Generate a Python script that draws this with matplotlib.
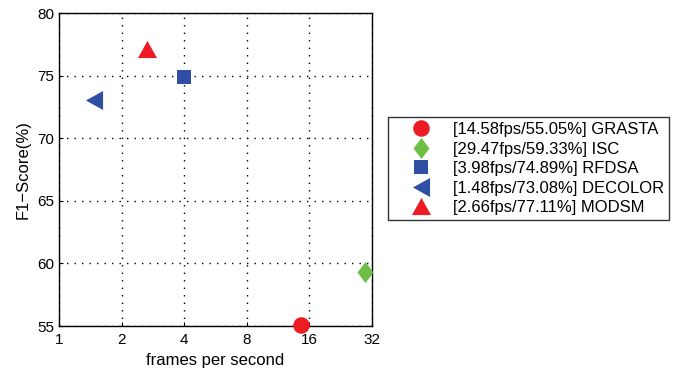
import matplotlib
matplotlib.use("Agg")
import matplotlib.pyplot as plt
from matplotlib.path import Path

plt.rcParams['font.family'] = ['Liberation Sans', 'DejaVu Sans']

methods = ["GRASTA", "ISC", "RFDSA", "DECOLOR", "MODSM"]
fps = [14.58, 29.47, 3.98, 1.48, 2.66]
f1 = [55.05, 59.33, 74.89, 73.08, 77.11]
xticks = [1, 2, 4, 8, 16, 32]
yticks = [55, 60, 65, 70, 75, 80]

# marker shapes (MATLAB-like proportions)
diamond = Path([(0, 1), (0.76, 0), (0, -1), (-0.76, 0), (0, 1)], closed=True)
tri_up = Path([(-1, -0.9), (1, -0.9), (0, 0.9), (-1, -0.9)], closed=True)
tri_left = Path([(0.9, 1), (0.9, -1), (-0.9, 0), (0.9, 1)], closed=True)
markers = ["o", diamond, "s", tri_left, tri_up]
colors = ["#ED1C24", "#6CBE45", "#2E4FA3", "#2E4FA3", "#ED1C24"]
sizes = [11.9, 15.1, 10.0, 13.7, 13.7]

fig = plt.figure(figsize=(6.75, 3.69), dpi=100)
ax = fig.add_axes([59/675, 1-326/369, 313/675, 313/369])

for m, x, y, mk, c, s in zip(methods, fps, f1, markers, colors, sizes):
    ax.plot([x], [y], linestyle='none', marker=mk, color=c, markersize=s,
            markeredgewidth=0, label=f"[{x:.2f}fps/{y:.2f}%] {m}", clip_on=False, zorder=5)

ax.set_xscale('log', base=2)
ax.set_xlim(1, 32)
ax.set_ylim(55, 80)
ax.set_xticks(xticks)
ax.set_xticklabels([str(t) for t in xticks])
ax.set_yticks(yticks)
ax.minorticks_off()
ax.grid(True, linestyle=(0, (1.0, 4.4)), color='black', linewidth=1.0)
ax.tick_params(direction='in', length=3, labelsize=11, width=0.8)
ax.tick_params(axis='x', pad=5)
for sp in ax.spines.values():
    sp.set_linewidth(1.0)
ax.set_xlabel("frames per second", fontsize=12, labelpad=4)
ax.set_ylabel("F1\u2212Score(%)", fontsize=12, labelpad=5)

leg = ax.legend(loc='upper left', bbox_to_anchor=(388/675, 1-117/369), bbox_transform=fig.transFigure,
                fontsize=12, frameon=True, fancybox=False, edgecolor='black',
                borderpad=0.3, labelspacing=0.27, handletextpad=0.2, handlelength=3.4,
                borderaxespad=0)
leg.get_frame().set_linewidth(1.0)

fig.savefig("out.png", dpi=100)
